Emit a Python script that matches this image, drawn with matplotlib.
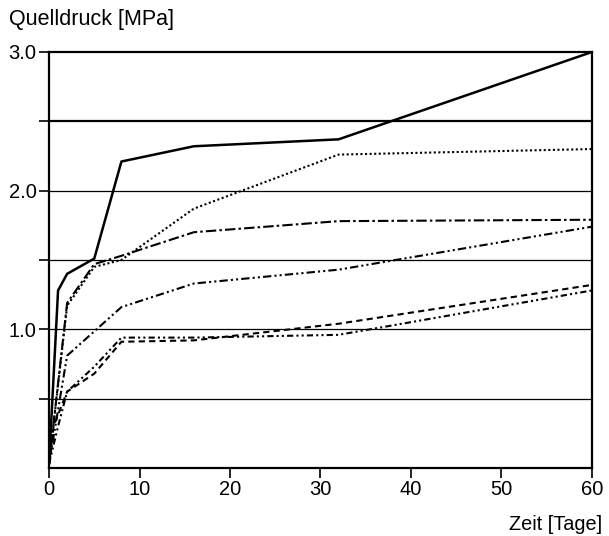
import matplotlib
matplotlib.use("Agg")
import matplotlib.pyplot as plt

plt.rcParams['font.family'] = ['Liberation Sans', 'DejaVu Sans']

# Quelldruck über der Zeit, sechs Versuchsreihen
t_a = [0, 1, 2, 5, 8, 16, 32, 60]
p_a = [0.03, 1.28, 1.40, 1.51, 2.21, 2.32, 2.37, 3.00]

t_b = [0, 2, 5, 8, 16, 32, 60]
p_b = [0.03, 1.17, 1.45, 1.50, 1.87, 2.26, 2.30]

t_c = [0, 2, 5, 8, 16, 32, 60]
p_c = [0.03, 1.19, 1.47, 1.53, 1.70, 1.78, 1.79]

t_d = [0, 2, 8, 16, 32, 60]
p_d = [0.03, 0.81, 1.16, 1.33, 1.43, 1.74]

t_e = [0, 0.5, 2, 5, 8, 16, 32, 60]
p_e = [0.03, 0.30, 0.55, 0.68, 0.91, 0.92, 1.04, 1.32]

t_f = [0, 1, 2, 5, 8, 16, 32, 60]
p_f = [0.03, 0.30, 0.55, 0.73, 0.94, 0.94, 0.96, 1.28]

x_ticks = [0, 10, 20, 30, 40, 50, 60]
y_ticks = [0.5, 1.0, 1.5, 2.0, 2.5, 3.0]
y_labels = ["", "1.0", "", "2.0", "", "3.0"]

fig = plt.figure(figsize=(6.09, 5.36), dpi=100)
ax = fig.add_axes([0.0805, 0.127, 0.8915, 0.776])

# horizontal grid lines
for y in [0.5, 1.0, 1.5, 2.0]:
    ax.axhline(y, color='black', lw=0.9, zorder=1)
ax.axhline(2.5, color='black', lw=1.6, zorder=1)

lw = 1.5
ax.plot(t_a, p_a, color='black', lw=1.8, ls='-', zorder=3)
ax.plot(t_b, p_b, color='black', lw=lw, ls=(0, (1, 1.2)), zorder=3)
ax.plot(t_c, p_c, color='black', lw=lw, ls=(0, (5, 1.5, 1.2, 1.5)), zorder=3)
ax.plot(t_d, p_d, color='black', lw=lw, ls=(0, (4, 1.5, 1, 1.5, 1, 1.5)), zorder=3)
ax.plot(t_e, p_e, color='black', lw=lw, ls=(0, (3, 2)), zorder=3)
ax.plot(t_f, p_f, color='black', lw=lw, ls=(0, (3, 1.5, 1, 1.5, 1, 1.5)), zorder=3)

ax.set_xlim(0, 60)
ax.set_ylim(0, 3.0)
ax.set_xticks(x_ticks)
ax.set_yticks(y_ticks)
ax.set_yticklabels(y_labels)
ax.tick_params(axis='both', direction='out', length=7, width=1.2,
               labelsize=14.5, colors='black', pad=2)
for s in ax.spines.values():
    s.set_linewidth(1.6)

fig.text(0.014, 0.963, "Quelldruck [MPa]", fontsize=15.5, ha='left', va='center')
fig.text(0.989, 0.022, "Zeit [Tage]", fontsize=14.3, ha='right', va='center')

fig.savefig("out.png", dpi=100)
